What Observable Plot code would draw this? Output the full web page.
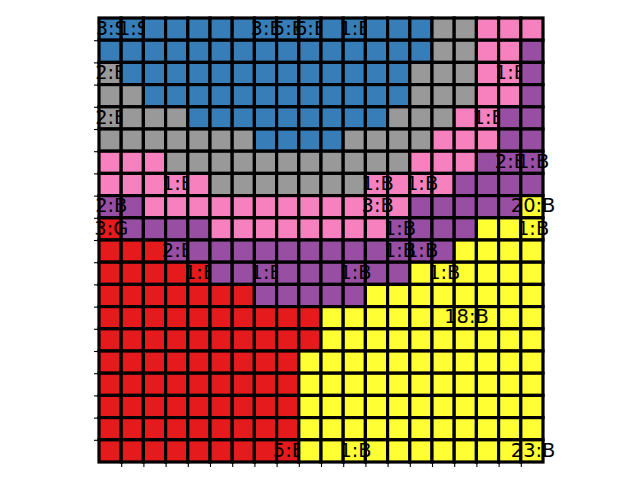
<!DOCTYPE html>
<html><head><meta charset="utf-8">
<script src="https://cdn.jsdelivr.net/npm/d3@7"></script>
<script src="https://cdn.jsdelivr.net/npm/@observablehq/plot@0.6"></script>
<style>body{margin:0;background:#fff} svg{display:block}</style>
</head><body><div id="chart"></div>
<script>
// category codes: U blue, G gray, P pink, V purple, R red, Y yellow (Set1)
const categoryCodes = ["U", "G", "P", "V", "R", "Y"];
const categoryColors = ["#377eb8", "#999999", "#f781bf", "#984ea3", "#e41a1c", "#ffff33"];

// one string per grid row (top to bottom), one code per column
const gridRows = [
  "UUUUUUUUUUUUUUUGGPPP",
  "UUUUUUUUUUUUUUUGGPPV",
  "GUUUUUUUUUUUUUGGGPPV",
  "GGUUUUUUUUUUUUGGGPPV",
  "GGGGUUUUUUUUUGGGPPVV",
  "GGGGGGGUUUUGGGGPPPVV",
  "PPPGGGGGGGGGGGPPPVVV",
  "PPPPPGGGGGGGPPPPVVVV",
  "VVPPPPPPPPPPPPVVVVVY",
  "RVVVVPPPPPPPPVVVVYYY",
  "RRRVVVVVVVVVVVVVYYYY",
  "RRRRRVVVVVVVVVYYYYYY",
  "RRRRRRRVVVVVYYYYYYYY",
  "RRRRRRRRRRYYYYYYYYYY",
  "RRRRRRRRRRYYYYYYYYYY",
  "RRRRRRRRRYYYYYYYYYYY",
  "RRRRRRRRRYYYYYYYYYYY",
  "RRRRRRRRRYYYYYYYYYYY",
  "RRRRRRRRRYYYYYYYYYYY",
  "RRRRRRRRRYYYYYYYYYYY"
];

// cell labels
const labelRows  = [0, 0, 0, 0, 0, 0, 2, 2, 4, 4, 6, 6, 7, 7, 7, 8, 8, 8, 9, 9, 9, 10, 10, 10, 11, 11, 11, 11, 13, 19, 19, 19];
const labelCols  = [0, 1, 7, 8, 9, 11, 0, 18, 0, 17, 18, 19, 3, 12, 14, 0, 12, 19, 0, 13, 19, 3, 13, 14, 4, 7, 11, 15, 16, 8, 11, 19];
const labelTexts = ["3:S", "1:S", "3:B", "5:B", "6:B", "1:B", "2:B", "1:B", "2:B", "1:B", "2:B", "1:B", "1:B", "1:B", "1:B", "2:B", "3:B", "20:B", "3:G", "1:B", "1:B", "2:B", "1:B", "1:B", "1:B", "1:B", "1:B", "1:B", "18:B", "5:B", "1:B", "23:B"];
// whether a label sits above the cells drawn after it
const labelOnTop = [false, false, false, false, false, false, false, false, false, false, false, true, false, true, true, true, true, true, true, true, true, false, true, true, false, false, true, true, true, false, true, true];

const tickValues = d3.range(1, 20);

const cells = [];
gridRows.forEach((s, r) => [...s].forEach((code, c) => cells.push({row: r, col: c, cat: code})));
const labels = labelTexts.map((t, i) => ({row: labelRows[i], col: labelCols[i], text: t, top: labelOnTop[i]}));

const textOpts = {
  x: d => d.col + 0.5,
  y: d => d.row + 0.5,
  text: "text",
  fontSize: 19.4,
  fontFamily: "DejaVu Sans",
  fill: "black",
  textAnchor: "middle",
  dx: 0.7,
  dy: -1
};

const nCols = gridRows[0].length;
const marks = [];
for (let c = 0; c < nCols; c++) {
  marks.push(Plot.rect(cells.filter(d => d.col === c), {
    x1: "col", x2: d => d.col + 1, y1: "row", y2: d => d.row + 1,
    fill: "cat", stroke: "black", strokeWidth: 3.2
  }));
  marks.push(Plot.text(labels.filter(d => d.col === c && !d.top), textOpts));
}
marks.push(Plot.text(labels.filter(d => d.top), textOpts));
marks.push(Plot.axisX(tickValues, {anchor: "bottom", tickSize: 5, tickFormat: () => "", label: null, stroke: "black", strokeWidth: 1.1}));
marks.push(Plot.axisY(tickValues, {anchor: "left", tickSize: 5, tickFormat: () => "", label: null, stroke: "black", strokeWidth: 1.1}));

const chart = Plot.plot({
  width: 640,
  height: 480,
  marginLeft: 99,
  marginRight: 97,
  marginTop: 18,
  marginBottom: 18,
  x: {type: "linear", domain: [0, gridRows[0].length]},
  y: {type: "linear", domain: [gridRows.length, 0]},
  color: {domain: categoryCodes, range: categoryColors},
  style: {fontFamily: "DejaVu Sans", background: "white"},
  marks
});
document.getElementById("chart").appendChild(chart);
</script>
</body></html>
